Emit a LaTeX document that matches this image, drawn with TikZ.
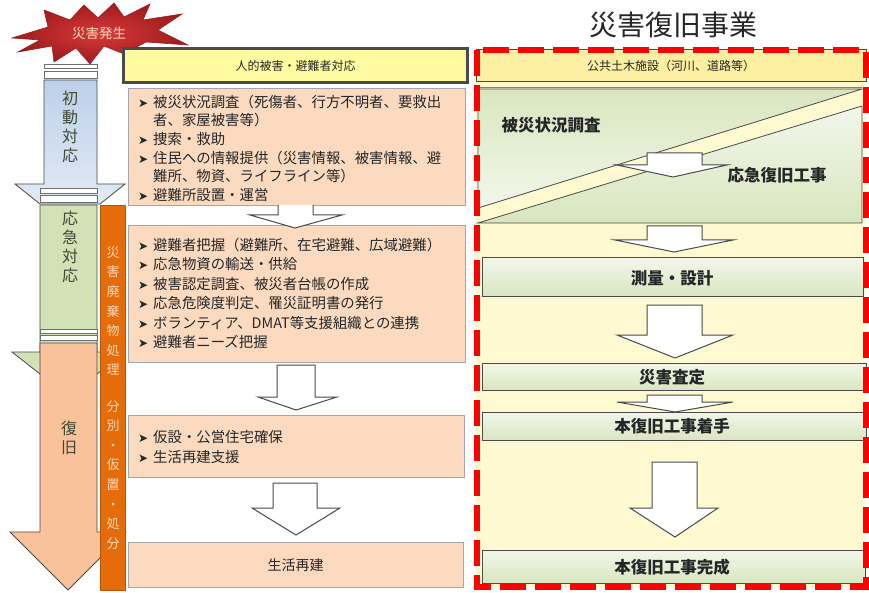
\documentclass[tikz,border=0pt]{standalone}
\usepackage{fontspec}
\setmainfont{Noto Sans CJK JP}
\newfontfamily\dejavu{DejaVu Sans}
\definecolor{txt}{HTML}{262626}
\definecolor{peach}{HTML}{FBDABF}
\definecolor{peachline}{HTML}{A6A6A6}
\definecolor{hdryel}{HTML}{FFFBA0}
\definecolor{panel}{HTML}{FEF9D0}
\definecolor{hdr2}{HTML}{FCEFA2}
\definecolor{bandor}{HTML}{E46C0A}
\definecolor{bandtxt}{HTML}{FCD9B8}
\definecolor{bodyor}{HTML}{FAC29A}
\definecolor{bodygr}{HTML}{D3E2B6}
\definecolor{bluetop}{HTML}{BCD0EA}
\definecolor{bluebot}{HTML}{E2EAF5}
\definecolor{grtop}{HTML}{F2F7EA}
\definecolor{grbot}{HTML}{D8E6BF}
\definecolor{outl}{HTML}{4A4A4A}
\definecolor{labtxt}{HTML}{3F4A33}
\definecolor{starin}{HTML}{D8393B}
\definecolor{starout}{HTML}{9E1B1D}
\newcommand\bl{\makebox[15pt][l]{\dejavu\fontsize{12}{12}\selectfont ➤}}
\newcommand\ind{\hspace*{15pt}}
\tikzset{
  ln/.style={inner sep=0pt, anchor=west, text=txt, text height=12.5pt, text depth=1.8pt, font=\fontsize{14.4}{17}\selectfont},
  peachbox/.style={draw=peachline, fill=peach, line width=0.8pt},
  blockarrow/.style={draw=outl, fill=white, line width=1pt, line join=miter},
  capband/.style={draw=outl!80, fill=white, line width=0.8pt},
  greenbox/.style={draw=outl, top color=grtop, bottom color=grbot, line width=1pt},
  rtxt/.style={inner sep=0pt, text=txt, font=\fontsize{16.5}{19}\selectfont\bfseries},
  vlab/.style={inner sep=0pt, align=center, text=labtxt, font=\fontsize{16}{19}\selectfont},
  vband/.style={inner sep=0pt, align=center, text=bandtxt, font=\fontsize{13}{19.6}\selectfont},
}
\begin{document}
\begin{tikzpicture}[x=1pt,y=-1pt]
\useasboundingbox (0,0) rectangle (869,593);
\fill[white] (0,0) rectangle (869,593);

% ---------- left column ----------
% star
\shadedraw[draw=starout, line width=0.6pt, inner color=starin, outer color=starout]
 (12,38) -- (48,27) -- (44,10) -- (70,20) -- (84,5) -- (98,18) -- (114,3) -- (124,17)
 -- (150,4) -- (143,20) -- (182,14) -- (158,30) -- (188,45) -- (146,42) -- (124,54)
 -- (104,46) -- (90,64) -- (76,48) -- (54,62) -- (52,46) -- (18,52) -- (40,40) -- cycle;
\node[inner sep=0pt, text=bandtxt, font=\fontsize{13.5}{15}\selectfont] (start) at (99,33) {災害発生};

% caps
\draw[capband] (44,64) rectangle (97,68);
\draw[capband] (44,71) rectangle (97,78);
% blue phase
\shadedraw[draw=outl, line width=0.8pt, top color=bluetop, bottom color=bluebot]
 (44,80) -- (97,80) -- (97,184) -- (125,184) -- (100,204) -- (40,204) -- (15,184) -- (44,184) -- cycle;
\draw[capband] (40,188) rectangle (97,193);
\draw[capband] (40,195) rectangle (97,202);
% green phase
\filldraw[draw=outl, line width=0.8pt, fill=bodygr]
 (40,205) -- (97,205) -- (97,352) -- (125,352) -- (97,374) -- (40,374) -- (12,352) -- (40,352) -- cycle;
\draw[capband] (40,329) rectangle (97,333);
\draw[capband] (40,335) rectangle (97,340);
% orange phase
\filldraw[draw=outl, line width=0.8pt, fill=bodyor]
 (40,343) -- (97,343) -- (97,532) -- (126,532) -- (68,590) -- (10,532) -- (40,532) -- cycle;
% waste band
\filldraw[draw=bandor!80!black, line width=0.6pt, fill=bandor] (100,205) rectangle (125,590);

\node[vlab] (ph1) at (70,127) {初\\動\\対\\応};
\node[vlab] (ph2) at (70,247) {応\\急\\対\\応};
\node[vlab] (ph3) at (69,438) {復\\旧};
\node[vband] (w1) at (113,311) {災\\害\\廃\\棄\\物\\処\\理};
\node[vband] (w2) at (113,475) {分\\別\\・\\仮\\置\\・\\処\\分};

% ---------- middle column ----------
\node[draw=outl, line width=2.4pt, fill=hdryel, minimum width=344pt, minimum height=34pt, inner sep=0pt,
      text=txt, font=\fontsize{12}{14}\selectfont] (hm) at (295.5,65.5) {人的被害・避難者対応};

\draw[peachbox] (128,88) rectangle (465,205);
\node[ln] (a1) at (138,102) {\bl 被災状況調査（死傷者、行方不明者、要救出};
\node[ln] (a2) at (138,120.5) {\ind 者、家屋被害等）};
\node[ln] (a3) at (138,139) {\bl 捜索・救助};
\node[ln] (a4) at (138,158) {\bl 住民への情報提供（災害情報、被害情報、避};
\node[ln] (a5) at (138,176.5) {\ind 難所、物資、ライフライン等）};
\node[ln] (a6) at (138,195) {\bl 避難所設置・運営};

\draw[peachbox] (128,225) rectangle (465,362);
\node[ln] (b1) at (138,245) {\bl 避難者把握（避難所、在宅避難、広域避難）};
\node[ln] (b2) at (138,264.5) {\bl 応急物資の輸送・供給};
\node[ln] (b3) at (138,284) {\bl 被害認定調査、被災者台帳の作成};
\node[ln] (b4) at (138,303.5) {\bl 応急危険度判定、罹災証明書の発行};
\node[ln] (b5) at (138,323) {\bl ボランティア、DMAT等支援組織との連携};
\node[ln] (b6) at (138,342.5) {\bl 避難者ニーズ把握};

\draw[peachbox] (128,415) rectangle (464,477);
\node[ln] (c1) at (138,437) {\bl 仮設・公営住宅確保};
\node[ln] (c2) at (138,457) {\bl 生活再建支援};

\draw[peachbox] (128,542) rectangle (463,587);
\node[inner sep=0pt, text=txt, font=\fontsize{14}{17}\selectfont] (d1) at (295.5,565) {生活再建};

% block arrows middle
\draw[blockarrow] (278,205) -- (278,215) -- (250,215) -- (295,228) -- (342,215) -- (313,215) -- (313,205);
\draw[blockarrow] (277,365) -- (315,365) -- (315,397) -- (337,397) -- (296,410) -- (258,397) -- (277,397) -- cycle;
\draw[blockarrow] (273,483) -- (317,483) -- (317,508) -- (340,508) -- (296,535) -- (252,508) -- (273,508) -- cycle;

% ---------- right column ----------
\node[inner sep=0pt, text=black!85, font=\fontsize{28}{32}\selectfont] (title) at (673,25) {災害復旧事業};

\fill[panel] (476,50) rectangle (866,587);
\node[draw=outl, line width=1pt, fill=hdr2, minimum width=390pt, minimum height=32pt, inner sep=0pt,
      text=txt, font=\fontsize{12}{14}\selectfont] (hr) at (671,66) {公共土木施設（河川、道路等）};

\draw[outl!70, line width=0.6pt] (478,87) -- (862,87);
\shadedraw[draw=outl, line width=0.8pt, top color=grbot, bottom color=grtop]
  (478,89) -- (862,89) -- (478,208) -- cycle;
\shadedraw[draw=outl, line width=0.8pt, top color=grtop, bottom color=grbot]
  (478,223) -- (862,106) -- (862,223) -- cycle;
\node[rtxt] (s1) at (551,125) {被災状況調査};
\draw[blockarrow] (647,153) -- (702,153) -- (702,165) -- (727,165) -- (673,177) -- (617,165) -- (647,165) -- cycle;
\node[rtxt] (s2) at (777,175) {応急復旧工事};

\draw[blockarrow] (647,226) -- (702,226) -- (702,240) -- (733,240) -- (674,252) -- (615,240) -- (647,240) -- cycle;
\draw[greenbox] (482,258) rectangle (863,297);
\node[rtxt] (s3) at (672,278) {測量・設計};

\draw[blockarrow] (647,305) -- (702,305) -- (702,335) -- (733,335) -- (675,358) -- (617,335) -- (647,335) -- cycle;
\draw[greenbox] (482,363) rectangle (866,390);
\node[rtxt] (s4) at (672,377) {災害査定};

\draw[blockarrow] (647,395) -- (702,395) -- (702,402) -- (733,402) -- (675,412) -- (617,402) -- (647,402) -- cycle;
\draw[greenbox] (482,412) rectangle (866,440);
\node[rtxt] (s5) at (672,426) {本復旧工事着手};

\draw[blockarrow] (652,462) -- (697,462) -- (697,508) -- (718,508) -- (675,537) -- (630,508) -- (652,508) -- cycle;
\draw[greenbox] (482,550) rectangle (865,583);
\node[rtxt] (s6) at (672,567) {本復旧工事完成};

% red dashed frame
\draw[red, line width=6pt, dash pattern=on 26pt off 9pt] (477,50) rectangle (866,587);
\end{tikzpicture}
\end{document}
